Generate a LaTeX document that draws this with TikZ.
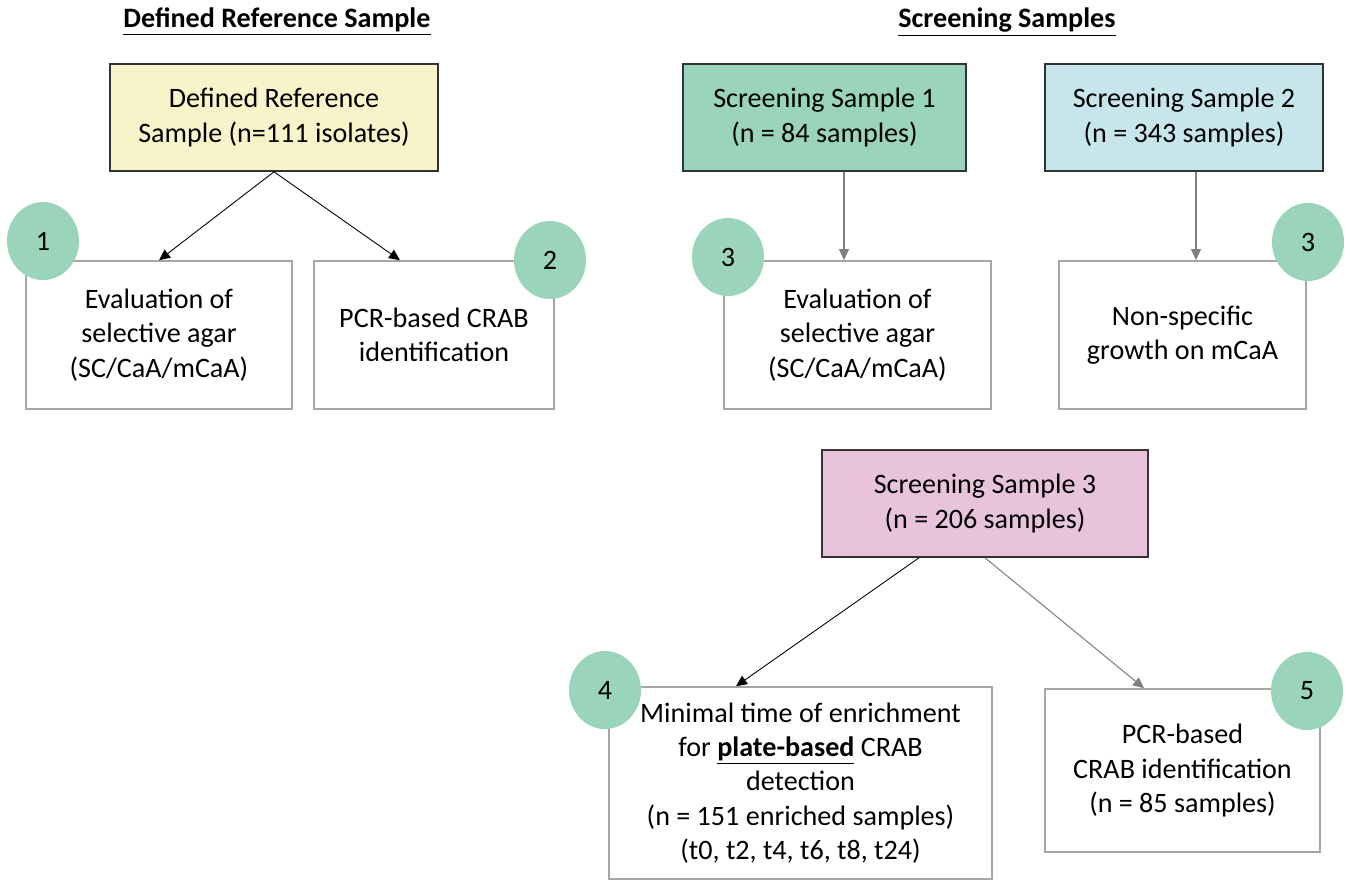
\documentclass[tikz,border=0pt]{standalone}
\usepackage{fontspec}
\setmainfont{Carlito}
\usetikzlibrary{shapes.geometric,arrows.meta}

\definecolor{refyellow}{RGB}{248,244,202}
\definecolor{mint}{RGB}{154,212,186}
\definecolor{paleblue}{RGB}{198,230,236}
\definecolor{sspink}{RGB}{232,196,220}
\definecolor{edgegray}{RGB}{166,166,166}
\definecolor{arrgray}{RGB}{128,128,128}

\begin{document}
\begin{tikzpicture}[x=0.02cm, y=-0.02cm,
  every node/.style={font=\fontsize{16}{19.5}\selectfont, align=center, inner sep=0pt},
  topbox/.style={draw=black!80, line width=0.9pt, minimum height=107*0.02cm},
  subbox/.style={draw=edgegray, line width=0.9pt},
  badge/.style={ellipse, fill=mint, minimum width=72*0.02cm, minimum height=78*0.02cm},
  blk/.style={-{Triangle[length=0.22cm,width=0.2cm]}, black, line width=0.5pt},
  gry/.style={-{Triangle[length=0.22cm,width=0.2cm]}, arrgray, line width=0.6pt}]

\useasboundingbox (0,0) rectangle (1350,880);

% Titles
\node[font=\fontsize{16}{19.5}\selectfont\bfseries] (ttlref) at (277,22) {\underline{Defined Reference Sample}};
\node[font=\fontsize{16}{19.5}\selectfont\bfseries] (ttlscr) at (1007,22) {\underline{Screening Samples}};

% Defined reference sample
\node[topbox, fill=refyellow, minimum width=328*0.02cm] (ref) at (274,117.5) {Defined Reference\\Sample (n=111 isolates)};
\node[subbox, minimum width=266*0.02cm, minimum height=148*0.02cm] (evalref) at (159,335) {Evaluation of\\selective agar\\(SC/CaA/mCaA)};
\node[subbox, minimum width=240*0.02cm, minimum height=148*0.02cm] (pcrref) at (434,335) {PCR-based CRAB\\identification};

\coordinate (xref) at (400,0);
\draw[blk] (ref.south) -- (evalref.north);
\draw[blk] (ref.south) -- (pcrref.north -| xref);

% Screening samples 1 and 2
\node[topbox, fill=mint, minimum width=283*0.02cm] (scr1) at (824.5,117.5) {Screening Sample 1\\(n = 84 samples)};
\node[topbox, fill=paleblue, minimum width=278*0.02cm] (scr2) at (1184,117.5) {Screening Sample 2\\(n = 343 samples)};
\node[subbox, minimum width=267*0.02cm, minimum height=148*0.02cm] (evalscr) at (857.5,335) {Evaluation of\\selective agar\\(SC/CaA/mCaA)};
\node[subbox, minimum width=247*0.02cm, minimum height=148*0.02cm] (growth) at (1182.5,335) {Non-specific\\growth on mCaA};

\coordinate (xscr1) at (844,0);
\coordinate (xscr2) at (1196,0);
\draw[gry] (scr1.south -| xscr1) -- (evalscr.north -| xscr1);
\draw[gry] (scr2.south -| xscr2) -- (growth.north -| xscr2);

% Screening sample 3
\node[topbox, fill=sspink, minimum width=326*0.02cm] (scr3) at (985,503.5) {Screening Sample 3\\(n = 206 samples)};
\node[subbox, minimum width=383*0.02cm, minimum height=192*0.02cm] (enrich) at (800.5,783) {Minimal time of enrichment\\for \textbf{\underline{plate-based}} CRAB\\detection\\(n = 151 enriched samples)\\(t0, t2, t4, t6, t8, t24)};
\node[subbox, minimum width=275*0.02cm, minimum height=163*0.02cm] (pcrscr) at (1182.5,770.5) {PCR-based\\CRAB identification\\(n = 85 samples)};

\coordinate (xout) at (919,0);
\coordinate (xin) at (736,0);
\coordinate (xpcr) at (1144,0);
\draw[blk] (scr3.south -| xout) -- (enrich.north -| xin);
\draw[gry] (scr3.south) -- (pcrscr.north -| xpcr);

% Step numbers
\foreach \i/\x/\y/\lbl in {1/43/241/1, 2/550/260/2, 3/728/257/3, 4/1308/242/3, 5/605/690/4, 6/1307/691/5}
  \node[badge] (badge\i) at (\x,\y) {\lbl};

\end{tikzpicture}
\end{document}
